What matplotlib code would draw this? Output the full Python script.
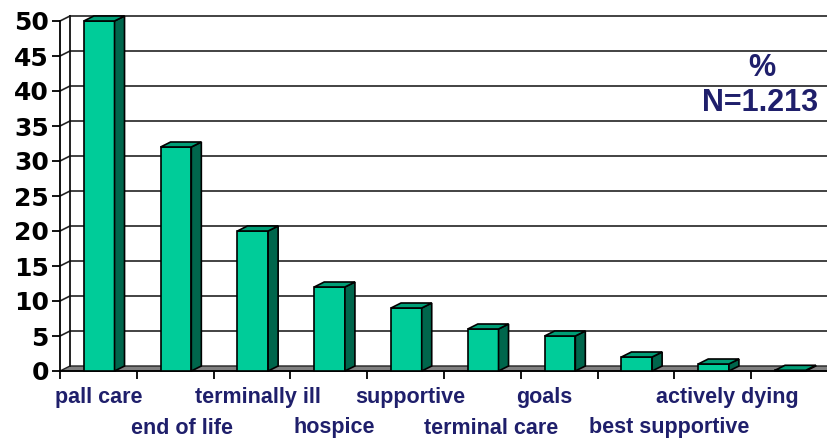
import matplotlib.pyplot as plt
from matplotlib.patches import Polygon
import matplotlib.transforms as mtransforms

# survey terms, share of mentions in %
terms = ['pall care', 'end of life', 'terminally ill', 'hospice', 'supportive',
         'terminal care', 'goals', 'best supportive', 'actively dying', '']
percent = [50, 32, 20, 12, 9, 6, 5, 2, 1, 0.1]
y_ticks = [0, 5, 10, 15, 20, 25, 30, 35, 40, 45, 50]

# layout only: small sideways shift of each label, and which row it sits in
label_shift = [0.01, 0.09, 0.08, 0.07, 0.06, 0.12, -0.19, 0.43, 0.19, 0]
label_row = [0, 1, 0, 1, 0, 1, 0, 1, 0, 1]

navy = '#1F1F6B'
front_col = '#00CC99'
side_col = '#00664C'
top_col = '#009E76'

fig = plt.figure(figsize=(8.28, 4.45), dpi=100)
ax = fig.add_axes([60 / 828, 74 / 445, 768 / 828, 350 / 445])
ax.set_xlim(0, len(terms))
ax.set_ylim(0, 50)

# depth of the fake 3d box, in data units (10 px right, 5 px up)
dx = 10 / 76.8
dy = 5 / 7.0
n = len(terms)

# floor
ax.add_patch(Polygon([(0, 0), (dx, dy), (n + dx, dy), (n, 0)], closed=True,
                     facecolor='#808080', edgecolor='#222222', lw=1, clip_on=False, zorder=1))
# back wall gridlines + side wall diagonals
for v in y_ticks[1:]:
    ax.plot([dx, n + dx], [v + dy, v + dy], color='#222222', lw=1.2, clip_on=False, zorder=1)
    ax.plot([0, dx], [v, v + dy], color='#222222', lw=1.2, clip_on=False, zorder=1)
ax.plot([dx, dx], [dy, 50 + dy], color='#111111', lw=1.3, clip_on=False, zorder=1)

# bars: front face through ax.bar, top and side faces added from the same values
xs = [i + 0.51 for i in range(n)]
w = 0.4
bars = ax.bar(xs, percent, width=w, color=front_col, edgecolor='black', lw=1.2, zorder=3, clip_on=False)
for b, h in zip(bars, percent):
    L = b.get_x()
    R = L + b.get_width()
    ax.add_patch(Polygon([(R, 0), (R + dx, dy), (R + dx, h + dy), (R, h)], closed=True,
                         facecolor=side_col, edgecolor='black', lw=1.2, zorder=3, clip_on=False))
    ax.add_patch(Polygon([(L, h), (R, h), (R + dx, h + dy), (L + dx, h + dy)], closed=True,
                         facecolor=top_col, edgecolor='black', lw=1.2, zorder=3, clip_on=False))

# axes look
for s in ['top', 'right']:
    ax.spines[s].set_visible(False)
ax.spines['left'].set_linewidth(1.3)
ax.spines['bottom'].set_linewidth(1.3)
ax.spines['left'].set_zorder(2)
ax.set_yticks(y_ticks)
ax.set_yticklabels([str(v) for v in y_ticks], fontsize=18, fontweight='bold',
                   family='DejaVu Sans')
ax.set_xticks(range(n + 1))
ax.set_xticklabels([])
ax.tick_params(axis='y', direction='out', length=6, width=1.3, pad=2)
ax.tick_params(axis='x', direction='out', length=6, width=1.3)

# category labels in two staggered rows
trans = mtransforms.blended_transform_factory(ax.transData, ax.transAxes)
row_y = [-26 / 350, -57 / 350]
for i, t in enumerate(terms):
    ax.text(i + 0.5 + label_shift[i], row_y[label_row[i]], t, transform=trans,
            ha='center', va='center', fontsize=15.5, fontweight='bold',
            color=navy, family='Liberation Sans')

fig.text(762 / 828, 1 - 68 / 445, '%', ha='center', va='center', fontsize=22,
         fontweight='bold', color=navy, family='Liberation Sans')
fig.text(760 / 828, 1 - 103 / 445, 'N=1.213', ha='center', va='center', fontsize=22,
         fontweight='bold', color=navy, family='Liberation Sans')

plt.savefig('out.png', dpi=100)
